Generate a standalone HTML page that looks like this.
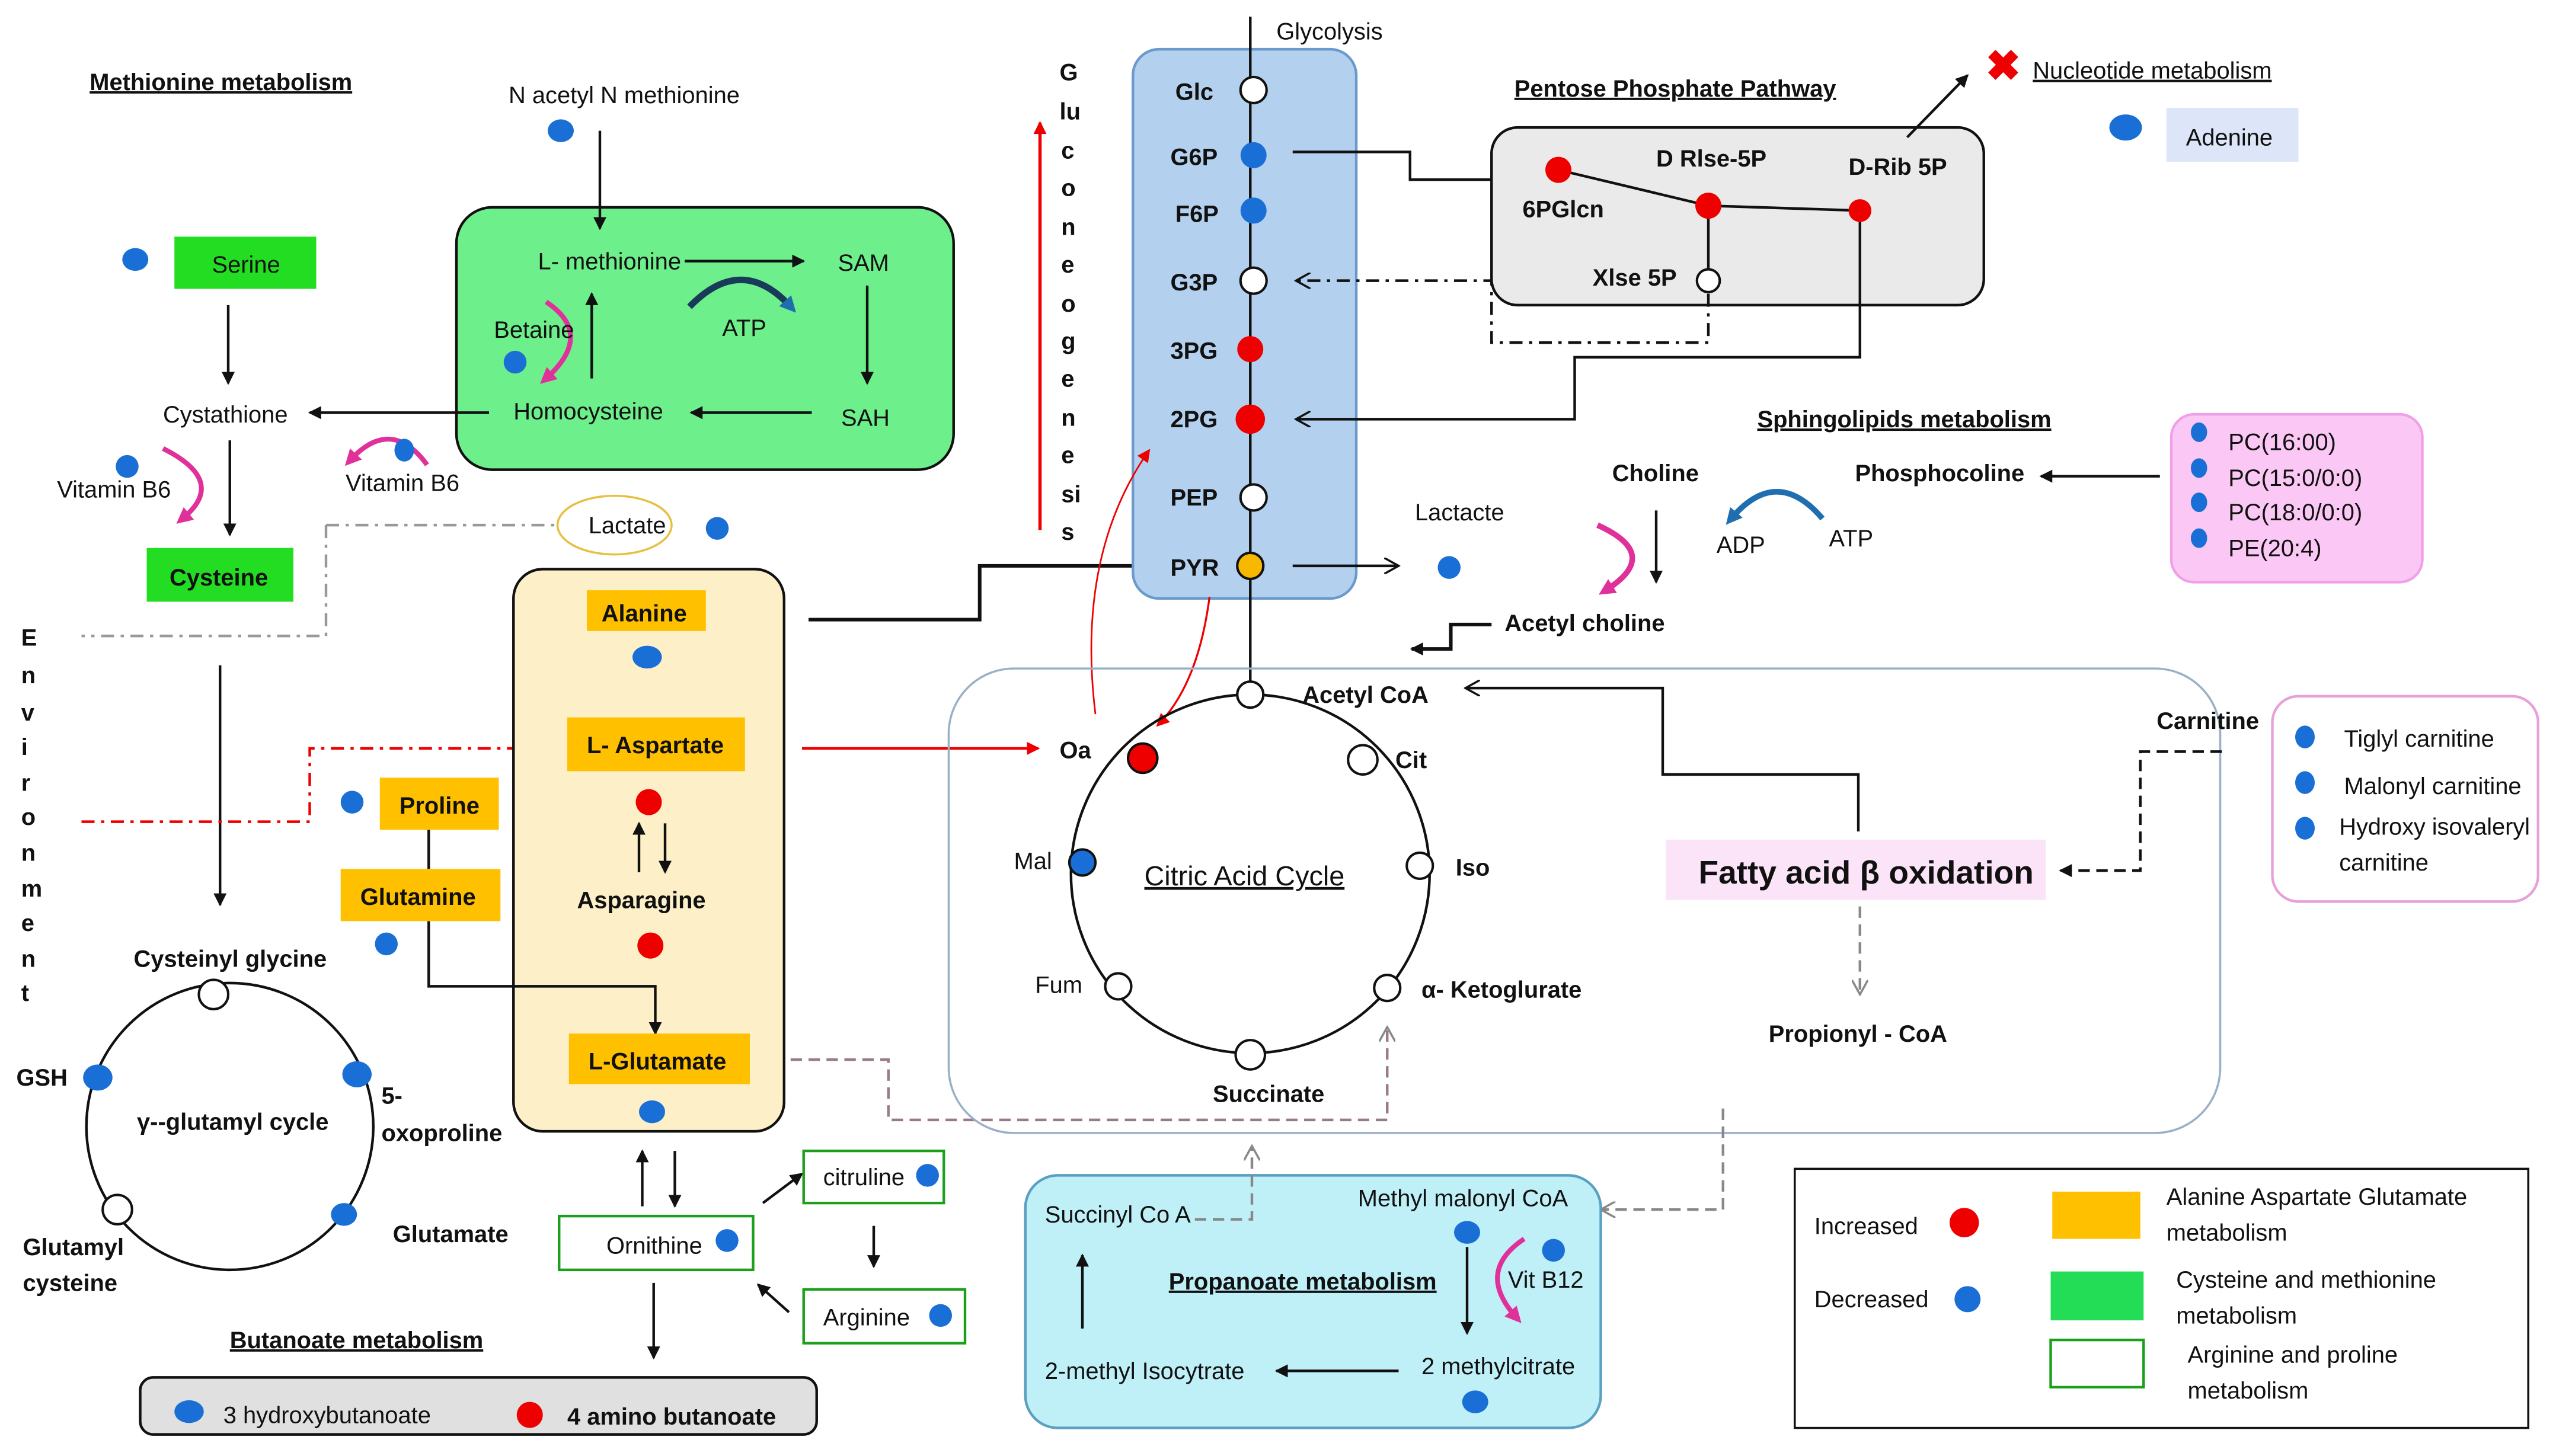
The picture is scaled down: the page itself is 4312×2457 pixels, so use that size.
<!DOCTYPE html>
<html><head><meta charset="utf-8"><style>
html,body{margin:0;padding:0;background:#fff;}
svg{display:block;}
text{font-family:"Liberation Sans",sans-serif;font-size:14.5px;fill:#111;}
.b{font-weight:bold;}
.u{text-decoration:underline;font-weight:bold;}
</style></head><body>
<svg width="4312" height="2457" viewBox="0 0 1568 893" xmlns="http://www.w3.org/2000/svg">
<defs>
<marker id="a" markerWidth="8" markerHeight="8" refX="7" refY="4" orient="auto" markerUnits="userSpaceOnUse"><path d="M0,0 L8,4 L0,8 z" fill="#111"/></marker>
<marker id="o" markerWidth="10" markerHeight="10" refX="9" refY="5" orient="auto" markerUnits="userSpaceOnUse"><path d="M0,0 L9,5 L0,10" fill="none" stroke="#111" stroke-width="1.3"/></marker>
<marker id="r" markerWidth="8" markerHeight="8" refX="7" refY="4" orient="auto" markerUnits="userSpaceOnUse"><path d="M0,0 L8,4 L0,8 z" fill="#e00"/></marker>
<marker id="g" markerWidth="10" markerHeight="10" refX="9" refY="5" orient="auto" markerUnits="userSpaceOnUse"><path d="M0,0 L9,5 L0,10" fill="none" stroke="#888" stroke-width="1.3"/></marker>
<marker id="p" markerWidth="10" markerHeight="10" refX="5" refY="5" orient="auto" markerUnits="userSpaceOnUse"><path d="M0,0 L10,5 L0,10 z" fill="#e0309a"/></marker>
<marker id="bl" markerWidth="10" markerHeight="10" refX="5" refY="5" orient="auto" markerUnits="userSpaceOnUse"><path d="M0,0 L10,5 L0,10 z" fill="#1f6fb0"/></marker>
</defs>
<g stroke="#111" stroke-width="1.6" fill="none">
<rect x="280" y="127" width="305" height="161" rx="22" fill="#6def8c"/>
<line x1="368" y1="80" x2="368" y2="140" marker-end="url(#a)"/>
<line x1="420" y1="160" x2="493" y2="160" marker-end="url(#a)"/>
<line x1="532" y1="175" x2="532" y2="235" marker-end="url(#a)"/>
<line x1="498" y1="253" x2="424" y2="253" marker-end="url(#a)"/>
<line x1="363" y1="232" x2="363" y2="180" marker-end="url(#a)"/>
<line x1="300" y1="253" x2="190" y2="253" marker-end="url(#a)"/>
<line x1="140" y1="187" x2="140" y2="235" marker-end="url(#a)"/>
<line x1="141" y1="270" x2="141" y2="328" marker-end="url(#a)"/>
<path d="M423,188 Q455,155 485,188" stroke="#1a3a5a" stroke-width="4" marker-end="url(#bl)"/>
<path d="M335,185 Q365,205 335,232" stroke="#e0309a" stroke-width="3" marker-end="url(#p)"/>
<path d="M100,275 Q140,295 112,318" stroke="#e0309a" stroke-width="3" marker-end="url(#p)"/>
<path d="M262,285 Q240,255 215,282" stroke="#e0309a" stroke-width="3" marker-end="url(#p)"/>
<path d="M200,322 L340,322 M200,322 L200,390 L50,390" stroke="#999" stroke-dasharray="8,4,2,4"/>
<ellipse cx="377" cy="322" rx="35" ry="18" stroke="#e6c040" fill="#fff" stroke-width="1.3"/>
<line x1="135" y1="408" x2="135" y2="555" marker-end="url(#a)"/>
<path d="M50,504 L190,504 L190,459 L322,459" stroke="#e00" stroke-dasharray="8,4,2,4" marker-end="url(#r)"/>
<rect x="315" y="349" width="166" height="345" rx="18" fill="#fdf0c8"/>
<line x1="392" y1="535" x2="392" y2="505" marker-end="url(#a)"/>
<line x1="408" y1="505" x2="408" y2="535" marker-end="url(#a)"/>
<path d="M263,509 L263,533 M263,565 L263,605 L402,605 L402,634" marker-end="url(#a)"/>
<path d="M496,380 L601,380 L601,347 L707,347" stroke-width="2.2" marker-end="url(#a)"/>
<line x1="492" y1="459" x2="637" y2="459" stroke="#e00" marker-end="url(#r)"/>
<circle cx="141" cy="691" r="88"/>
<line x1="394" y1="740" x2="394" y2="706" marker-end="url(#a)"/>
<line x1="414" y1="706" x2="414" y2="740" marker-end="url(#a)"/>
<line x1="401" y1="787" x2="401" y2="833" marker-end="url(#a)"/>
<line x1="468" y1="738" x2="492" y2="720" marker-end="url(#a)"/>
<line x1="536" y1="752" x2="536" y2="777" marker-end="url(#a)"/>
<line x1="484" y1="805" x2="465" y2="788" marker-end="url(#a)"/>
<rect x="343" y="746" width="119" height="33" stroke="#1ca01c" fill="#fff"/>
<rect x="493" y="706" width="86" height="32" stroke="#1ca01c" fill="#fff"/>
<rect x="493" y="791" width="99" height="33" stroke="#1ca01c" fill="#fff"/>
<rect x="86" y="845" width="415" height="35" rx="8" fill="#e0e0e0"/>
<path d="M485,650 L545,650 L545,687 L851,687 L851,630" stroke="#9a7a8a" stroke-dasharray="7,4" marker-end="url(#g)"/>
<line x1="638" y1="325" x2="638" y2="75" stroke="#e00" stroke-width="2" marker-end="url(#r)"/>
<rect x="695" y="30" width="137" height="337" rx="16" fill="#b3d1ee" stroke="#6a9acb"/>
<line x1="767" y1="10" x2="767" y2="420"/>
<path d="M793,93 L865,93 L865,110 L935,110" marker-end="url(#a)"/>
<rect x="915" y="78" width="302" height="109" rx="16" fill="#eaeaea"/>
<path d="M956,104 L1048,126 L1141,129 M1048,126 L1048,172"/>
<path d="M1048,180 L1048,210 L915,210 L915,172 L795,172" stroke-dasharray="8,4,2,4" marker-end="url(#o)"/>
<path d="M1141,136 L1141,219 L966,219 L966,257 L795,257" marker-end="url(#o)"/>
<line x1="1170" y1="84" x2="1207" y2="46" marker-end="url(#a)"/>
<line x1="793" y1="347" x2="858" y2="347" marker-end="url(#o)"/>
<path d="M672,438 Q660,340 705,276" stroke="#e00" stroke-width="1" marker-end="url(#r)"/>
<path d="M742,366 Q735,420 710,445" stroke="#e00" stroke-width="1.2" marker-end="url(#r)"/>
<rect x="582" y="410" width="780" height="285" rx="40" stroke="#9ab0c8" stroke-width="1.3"/>
<circle cx="767" cy="536" r="110"/>
<path d="M1140,510 L1140,475 L1020,475 L1020,422 L899,422" marker-end="url(#o)"/>
<rect x="1022" y="515" width="233" height="37" fill="#fce4f8" stroke="none"/>
<path d="M1363,461 L1313,461 L1313,534 L1264,534" stroke-dasharray="7,4" marker-end="url(#a)"/>
<rect x="1394" y="427" width="163" height="126" rx="16" stroke="#e8a0d8" fill="#fff"/>
<line x1="1141" y1="556" x2="1141" y2="610" stroke="#888" stroke-dasharray="7,4" marker-end="url(#g)"/>
<path d="M1057,680 L1057,742 L982,742" stroke="#888" stroke-dasharray="7,4" marker-end="url(#g)"/>
<rect x="629" y="721" width="353" height="155" rx="20" fill="#bff0f8" stroke="#5aa0c0"/>
<path d="M733,748 L768,748 L768,703" stroke="#888" stroke-dasharray="7,4" marker-end="url(#g)"/>
<line x1="900" y1="765" x2="900" y2="818" marker-end="url(#a)"/>
<path d="M935,760 Q905,780 930,808" stroke="#e0309a" stroke-width="3" marker-end="url(#p)"/>
<line x1="664" y1="815" x2="664" y2="770" marker-end="url(#a)"/>
<line x1="858" y1="841" x2="783" y2="841" marker-end="url(#a)"/>
<line x1="1325" y1="292" x2="1252" y2="292" marker-end="url(#a)"/>
<path d="M1118,318 Q1090,285 1062,318" stroke="#1f6fb0" stroke-width="3.5" marker-end="url(#bl)"/>
<line x1="1016" y1="313" x2="1016" y2="357" marker-end="url(#a)"/>
<path d="M980,322 Q1020,340 985,362" stroke="#e0309a" stroke-width="3.5" marker-end="url(#p)"/>
<path d="M915,383 L890,383 L890,398 L866,398" stroke-width="2.2" marker-end="url(#a)"/>
<rect x="1332" y="254" width="154" height="103" rx="14" fill="#fbc8f5" stroke="#f0a0e8"/>
<rect x="1101" y="717" width="450" height="159" stroke-width="1.3"/>
<rect x="1259" y="731" width="54" height="29" fill="#ffc000" stroke="none"/>
<rect x="1258" y="780" width="57" height="30" fill="#22dd55" stroke="none"/>
<rect x="1258" y="822" width="57" height="29" fill="#fff" stroke="#1ca01c"/>
</g>
<rect x="107" y="145" width="87" height="32" fill="#22dd22"/>
<rect x="90" y="336" width="90" height="33" fill="#22dd22"/>
<rect x="360" y="362" width="73" height="25" fill="#ffc000"/>
<rect x="348" y="440" width="109" height="33" fill="#ffc000"/>
<rect x="349" y="634" width="111" height="31" fill="#ffc000"/>
<rect x="233" y="477" width="73" height="32" fill="#ffc000"/>
<rect x="209" y="533" width="98" height="32" fill="#ffc000"/>
<rect x="1329" y="66" width="81" height="33" fill="#dde6f8"/>
<g fill="#1a6fd6">
<ellipse cx="344" cy="80" rx="8" ry="7"/><ellipse cx="83" cy="159" rx="8" ry="7"/><ellipse cx="316" cy="222" rx="7" ry="7"/>
<ellipse cx="78" cy="286" rx="7" ry="7"/><ellipse cx="248" cy="276" rx="6" ry="7"/><ellipse cx="440" cy="324" rx="7" ry="7"/>
<ellipse cx="397" cy="403" rx="9" ry="7"/><ellipse cx="400" cy="682" rx="8" ry="7"/><ellipse cx="216" cy="492" rx="7" ry="7"/>
<ellipse cx="237" cy="579" rx="7" ry="7"/><ellipse cx="60" cy="661" rx="9" ry="8"/><ellipse cx="219" cy="659" rx="9" ry="8"/>
<ellipse cx="211" cy="745" rx="8" ry="7"/><ellipse cx="446" cy="761" rx="7" ry="7"/><ellipse cx="569" cy="721" rx="7" ry="7"/>
<ellipse cx="577" cy="807" rx="7" ry="7"/><ellipse cx="116" cy="866" rx="9" ry="7"/><ellipse cx="1304" cy="78" rx="10" ry="8"/>
<ellipse cx="889" cy="348" rx="7" ry="7"/><ellipse cx="900" cy="756" rx="8" ry="7"/><ellipse cx="953" cy="767" rx="7" ry="7"/>
<ellipse cx="905" cy="860" rx="8" ry="7"/><ellipse cx="1207" cy="797" rx="8" ry="8"/>
<ellipse cx="1414" cy="452" rx="6" ry="7"/><ellipse cx="1414" cy="480" rx="6" ry="7"/><ellipse cx="1414" cy="508" rx="6" ry="7"/>
<ellipse cx="1349" cy="265" rx="5" ry="6"/><ellipse cx="1349" cy="287" rx="5" ry="6"/><ellipse cx="1349" cy="308" rx="5" ry="6"/><ellipse cx="1349" cy="330" rx="5" ry="6"/>
</g>
<g fill="#ee0000">
<circle cx="398" cy="492" r="8"/><circle cx="399" cy="580" r="8"/><circle cx="325" cy="868" r="8"/>
<circle cx="956" cy="104" r="8"/><circle cx="1048" cy="126" r="8"/><circle cx="1141" cy="129" r="7"/>
<circle cx="1205" cy="750" r="9"/>
</g>
<g stroke="#111" stroke-width="1.5">
<circle cx="769" cy="55" r="8" fill="#fff"/><circle cx="769" cy="95" r="8" fill="#1a6fd6" stroke="none"/>
<circle cx="769" cy="129" r="8" fill="#1a6fd6" stroke="none"/><circle cx="769" cy="172" r="8" fill="#fff"/>
<circle cx="767" cy="214" r="8" fill="#ee0000" stroke="none"/><circle cx="767" cy="257" r="9" fill="#ee0000" stroke="none"/>
<circle cx="769" cy="305" r="8" fill="#fff"/><circle cx="767" cy="347" r="8" fill="#f8b800"/>
<circle cx="1048" cy="172" r="7" fill="#fff"/>
<circle cx="767" cy="426" r="8" fill="#fff"/><circle cx="701" cy="465" r="9" fill="#ee0000"/>
<circle cx="836" cy="466" r="9" fill="#fff"/><circle cx="871" cy="531" r="8" fill="#fff"/>
<circle cx="664" cy="529" r="8" fill="#1a6fd6"/><circle cx="686" cy="605" r="8" fill="#fff"/>
<circle cx="851" cy="606" r="8" fill="#fff"/><circle cx="767" cy="647" r="9" fill="#fff"/>
<circle cx="131" cy="610" r="9" fill="#fff"/><circle cx="72" cy="742" r="9" fill="#fff"/>
</g>
<text x="1218" y="49" style="font-size:26px;fill:#e00;font-weight:bold">✖</text>
<text x="55" y="55" class="u">Methionine metabolism</text>
<text x="312" y="63">N acetyl N methionine</text>
<text x="330" y="165">L- methionine</text>
<text x="514" y="166">SAM</text>
<text x="443" y="206">ATP</text>
<text x="516" y="261">SAH</text>
<text x="315" y="257">Homocysteine</text>
<text x="303" y="207">Betaine</text>
<text x="130" y="167">Serine</text>
<text x="100" y="259">Cystathione</text>
<text x="35" y="305">Vitamin B6</text>
<text x="212" y="301">Vitamin  B6</text>
<text x="104" y="359" class="b">Cysteine</text>
<text x="361" y="327">Lactate</text>
<g><text x="13" y="396" class="b">E</text><text x="13" y="419" class="b">n</text><text x="13" y="442" class="b">v</text><text x="13" y="463" class="b">i</text><text x="13" y="485" class="b">r</text><text x="13" y="506" class="b">o</text><text x="13" y="528" class="b">n</text><text x="13" y="550" class="b">m</text><text x="13" y="571" class="b">e</text><text x="13" y="593" class="b">n</text><text x="13" y="614" class="b">t</text></g>
<text x="369" y="381" class="b">Alanine</text>
<text x="360" y="462" class="b">L- Aspartate</text>
<text x="354" y="557" class="b">Asparagine</text>
<text x="361" y="656" class="b">L-Glutamate</text>
<text x="245" y="499" class="b">Proline</text>
<text x="221" y="555" class="b">Glutamine</text>
<text x="82" y="593" class="b">Cysteinyl glycine</text>
<text x="10" y="666" class="b">GSH</text>
<text x="84" y="693" class="b">γ--glutamyl cycle</text>
<text x="234" y="677" class="b">5-</text>
<text x="234" y="700" class="b">oxoproline</text>
<text x="241" y="762" class="b">Glutamate</text>
<text x="14" y="770" class="b">Glutamyl</text>
<text x="14" y="792" class="b">cysteine</text>
<text x="372" y="769">Ornithine</text>
<text x="505" y="727">citruline</text>
<text x="505" y="813">Arginine</text>
<text x="141" y="827" class="u">Butanoate metabolism</text>
<text x="137" y="873">3 hydroxybutanoate</text>
<text x="348" y="874" class="b">4 amino butanoate</text>
<g><text x="650" y="49" class="b">G</text><text x="650" y="73" class="b">lu</text><text x="651" y="97" class="b">c</text><text x="651" y="120" class="b">o</text><text x="651" y="144" class="b">n</text><text x="651" y="167" class="b">e</text><text x="651" y="191" class="b">o</text><text x="651" y="214" class="b">g</text><text x="651" y="237" class="b">e</text><text x="651" y="261" class="b">n</text><text x="651" y="284" class="b">e</text><text x="651" y="308" class="b">si</text><text x="651" y="331" class="b">s</text></g>
<text x="783" y="24">Glycolysis</text>
<g><text x="721" y="61" class="b">Glc</text><text x="718" y="101" class="b">G6P</text><text x="721" y="136" class="b">F6P</text><text x="718" y="178" class="b">G3P</text><text x="718" y="220" class="b">3PG</text><text x="718" y="262" class="b">2PG</text><text x="718" y="310" class="b">PEP</text><text x="718" y="353" class="b">PYR</text></g>
<text x="929" y="59" class="u">Pentose Phosphate Pathway</text>
<text x="1016" y="102" class="b">D Rlse-5P</text>
<text x="1134" y="107" class="b">D-Rib 5P</text>
<text x="934" y="133" class="b">6PGlcn</text>
<text x="977" y="175" class="b">Xlse 5P</text>
<text x="1247" y="48" style="text-decoration:underline">Nucleotide metabolism</text>
<text x="1341" y="89">Adenine</text>
<text x="868" y="319">Lactacte</text>
<text x="1078" y="262" class="u">Sphingolipids metabolism</text>
<text x="989" y="295" class="b">Choline</text>
<text x="1138" y="295" class="b">Phosphocoline</text>
<text x="1053" y="339">ADP</text>
<text x="1122" y="335">ATP</text>
<text x="923" y="387" class="b">Acetyl choline</text>
<text x="1367" y="276">PC(16:00)</text>
<text x="1367" y="298">PC(15:0/0:0)</text>
<text x="1367" y="319">PC(18:0/0:0)</text>
<text x="1367" y="341">PE(20:4)</text>
<text x="799" y="431" class="b">Acetyl CoA</text>
<text x="650" y="465" class="b">Oa</text>
<text x="856" y="471" class="b">Cit</text>
<text x="893" y="537" class="b">Iso</text>
<text x="622" y="533">Mal</text>
<text x="635" y="609">Fum</text>
<text x="872" y="612" class="b">α- Ketoglurate</text>
<text x="744" y="676" class="b">Succinate</text>
<text x="702" y="543" style="font-size:17px;text-decoration:underline">Citric Acid Cycle</text>
<text x="1042" y="542" style="font-size:20px;font-weight:bold">Fatty acid β oxidation</text>
<text x="1323" y="447" class="b">Carnitine</text>
<text x="1438" y="458">Tiglyl carnitine</text>
<text x="1438" y="487">Malonyl carnitine</text>
<text x="1435" y="512" textLength="117">Hydroxy isovaleryl</text>
<text x="1435" y="534">carnitine</text>
<text x="1085" y="639" class="b">Propionyl - CoA</text>
<text x="641" y="750">Succinyl Co A</text>
<text x="833" y="740">Methyl malonyl CoA</text>
<text x="925" y="790">Vit B12</text>
<text x="717" y="791" class="u">Propanoate metabolism</text>
<text x="641" y="846">2-methyl Isocytrate</text>
<text x="872" y="843">2 methylcitrate</text>
<text x="1113" y="757">Increased</text>
<text x="1113" y="802">Decreased</text>
<text x="1329" y="739">Alanine Aspartate Glutamate</text>
<text x="1329" y="761">metabolism</text>
<text x="1335" y="790">Cysteine and methionine</text>
<text x="1335" y="812">metabolism</text>
<text x="1342" y="836">Arginine and proline</text>
<text x="1342" y="858">metabolism</text>
</svg>
</body></html>
